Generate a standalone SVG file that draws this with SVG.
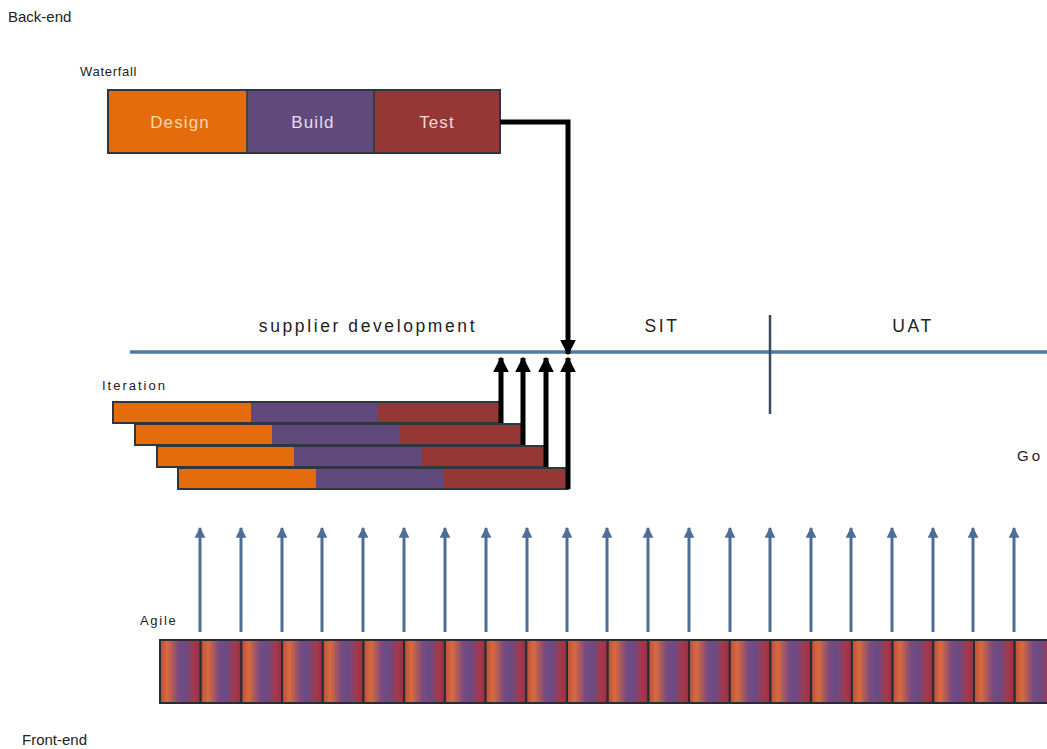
<svg xmlns="http://www.w3.org/2000/svg" width="1047" height="749" viewBox="0 0 1047 749">
<style>
.t{font-family:"Liberation Sans",Arial,sans-serif;fill:#222}
.lbl{font-size:15px}
.ph{font-size:17.5px;letter-spacing:2.6px;text-anchor:middle}
.sm{font-size:13px}
.wl{font-family:"Liberation Sans",Arial,sans-serif;font-size:17px;letter-spacing:1.1px;text-anchor:middle}
.or{fill:#E46C0A}
.pu{fill:#604A7B}
.rd{fill:#953735}
.bd{fill:none;stroke:#2F3640;stroke-width:2}
.blk{stroke:#000;stroke-width:5;fill:none}
.blu{stroke:#4F6E96;stroke-width:3;fill:none}
</style>
<defs>
<linearGradient id="ag" x1="0" y1="0" x2="1" y2="0">
<stop offset="0" stop-color="#B5503F"/>
<stop offset="0.18" stop-color="#DA6A3C"/>
<stop offset="0.45" stop-color="#7A4A80"/>
<stop offset="0.62" stop-color="#674C86"/>
<stop offset="0.85" stop-color="#A8364A"/>
<stop offset="1" stop-color="#8E3343"/>
</linearGradient>
<marker id="ah" viewBox="0 0 10 10" refX="9" refY="5" markerWidth="3.2" markerHeight="3.2" orient="auto" markerUnits="strokeWidth">
<path d="M0,0 L10,5 L0,10 z" fill="#000"/>
</marker>
<marker id="bh" viewBox="0 0 10 10" refX="9" refY="5" markerWidth="3.6" markerHeight="3.6" orient="auto" markerUnits="strokeWidth">
<path d="M0,0 L10,5 L0,10 z" fill="#4F6E96"/>
</marker>
<g id="seg">
<rect x="0" y="0" width="40.7" height="63" fill="url(#ag)"/>
<rect x="0" y="0" width="40.7" height="63" fill="none" stroke="#2E2A33" stroke-width="2"/>
</g>
</defs>
<rect width="1047" height="749" fill="#fff"/>

<text class="t lbl" x="8" y="22">Back-end</text>
<text class="t lbl" x="22" y="745">Front-end</text>

<g id="waterfall">
<text class="t sm" x="80" y="76" letter-spacing="0.7">Waterfall</text>
<rect class="or" x="108" y="90" width="139" height="63"/>
<rect class="pu" x="247" y="90" width="127" height="63"/>
<rect class="rd" x="374" y="90" width="126" height="63"/>
<rect class="bd" x="108" y="90" width="392" height="63"/>
<line x1="247" y1="90" x2="247" y2="153" stroke="#2F3640" stroke-width="1.5"/>
<line x1="374" y1="90" x2="374" y2="153" stroke="#2F3640" stroke-width="1.5"/>
<text class="wl" x="180" y="128" fill="#FAD7B0">Design</text>
<text class="wl" x="313" y="128" fill="#E4DDF0">Build</text>
<text class="wl" x="437" y="128" fill="#F4D8D6">Test</text>
</g>

<g id="timeline">
<line x1="130" y1="352" x2="1047" y2="352" stroke="#4F7AA6" stroke-width="3.5"/>
<line x1="770" y1="315" x2="770" y2="414" stroke="#3A4A5E" stroke-width="2.5"/>
<text class="t ph" x="368" y="332">supplier development</text>
<text class="t ph" x="662" y="332">SIT</text>
<text class="t ph" x="913" y="332">UAT</text>
<text class="t lbl" x="1017" y="461" letter-spacing="3">Go</text>
</g>

<g id="iteration">
<text class="t sm" x="102" y="390" letter-spacing="2">Iteration</text>
<g>
<rect class="or" x="113" y="402" width="138" height="21"/>
<rect class="pu" x="251" y="402" width="127" height="21"/>
<rect class="rd" x="378" y="402" width="122" height="21"/>
<rect class="bd" x="113" y="402" width="387" height="21"/>
</g>
<g>
<rect class="or" x="135" y="424" width="137" height="21"/>
<rect class="pu" x="272" y="424" width="128" height="21"/>
<rect class="rd" x="400" y="424" width="122" height="21"/>
<rect class="bd" x="135" y="424" width="387" height="21"/>
</g>
<g>
<rect class="or" x="157" y="446" width="137" height="21"/>
<rect class="pu" x="294" y="446" width="127" height="21"/>
<rect class="rd" x="421" y="446" width="124" height="21"/>
<rect class="bd" x="157" y="446" width="388" height="21"/>
</g>
<g>
<rect class="or" x="178" y="468" width="138" height="21"/>
<rect class="pu" x="316" y="468" width="127" height="21"/>
<rect class="rd" x="443" y="468" width="125" height="21"/>
<rect class="bd" x="178" y="468" width="390" height="21"/>
</g>
</g>

<g id="agile">
<text class="t sm" x="140" y="625" letter-spacing="1.7">Agile</text>
<use href="#seg" x="160" y="640"/>
<use href="#seg" x="200.7" y="640"/>
<use href="#seg" x="241.4" y="640"/>
<use href="#seg" x="282.1" y="640"/>
<use href="#seg" x="322.8" y="640"/>
<use href="#seg" x="363.5" y="640"/>
<use href="#seg" x="404.2" y="640"/>
<use href="#seg" x="444.9" y="640"/>
<use href="#seg" x="485.6" y="640"/>
<use href="#seg" x="526.3" y="640"/>
<use href="#seg" x="567" y="640"/>
<use href="#seg" x="607.7" y="640"/>
<use href="#seg" x="648.4" y="640"/>
<use href="#seg" x="689.1" y="640"/>
<use href="#seg" x="729.8" y="640"/>
<use href="#seg" x="770.5" y="640"/>
<use href="#seg" x="811.2" y="640"/>
<use href="#seg" x="851.9" y="640"/>
<use href="#seg" x="892.6" y="640"/>
<use href="#seg" x="933.3" y="640"/>
<use href="#seg" x="974" y="640"/>
<use href="#seg" x="1014.7" y="640"/>
</g>

<g id="connectors">
<path class="blk" d="M500,122 H568 V354" stroke-width="4.5" marker-end="url(#ah)"/>
<line class="blk" x1="501" y1="423" x2="501" y2="358" marker-end="url(#ah)"/>
<line class="blk" x1="523" y1="445" x2="523" y2="358" marker-end="url(#ah)"/>
<line class="blk" x1="546" y1="467" x2="546" y2="358" marker-end="url(#ah)"/>
<line class="blk" x1="568" y1="489" x2="568" y2="358" marker-end="url(#ah)"/>
<g class="blu" marker-end="url(#bh)">
<line x1="200" y1="632" x2="200" y2="528"/>
<line x1="241" y1="632" x2="241" y2="528"/>
<line x1="282" y1="632" x2="282" y2="528"/>
<line x1="322" y1="632" x2="322" y2="528"/>
<line x1="363" y1="632" x2="363" y2="528"/>
<line x1="404" y1="632" x2="404" y2="528"/>
<line x1="445" y1="632" x2="445" y2="528"/>
<line x1="486" y1="632" x2="486" y2="528"/>
<line x1="527" y1="632" x2="527" y2="528"/>
<line x1="567" y1="632" x2="567" y2="528"/>
<line x1="607" y1="632" x2="607" y2="528"/>
<line x1="648" y1="632" x2="648" y2="528"/>
<line x1="689" y1="632" x2="689" y2="528"/>
<line x1="730" y1="632" x2="730" y2="528"/>
<line x1="770" y1="632" x2="770" y2="528"/>
<line x1="811" y1="632" x2="811" y2="528"/>
<line x1="851" y1="632" x2="851" y2="528"/>
<line x1="892" y1="632" x2="892" y2="528"/>
<line x1="933" y1="632" x2="933" y2="528"/>
<line x1="973" y1="632" x2="973" y2="528"/>
<line x1="1014" y1="632" x2="1014" y2="528"/>
</g>
</g>
</svg>
